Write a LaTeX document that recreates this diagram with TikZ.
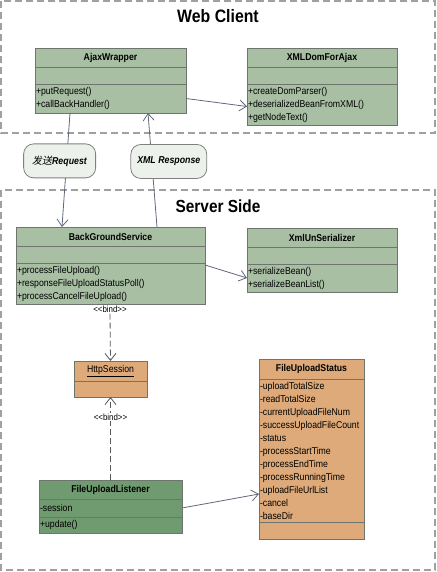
\documentclass[tikz,border=0pt]{standalone}
\usepackage{fontspec}
\setmainfont{Liberation Sans}
\newfontfamily\etroit[FakeStretch=0.88]{Liberation Sans}
\newfontfamily\cjk[FakeSlant=0.2]{Noto Sans CJK SC}
\usetikzlibrary{arrows.meta,positioning}
\definecolor{vertclair}{RGB}{168,191,164}
\definecolor{vertfonce}{RGB}{112,155,112}
\definecolor{ocre}{RGB}{222,170,122}
\definecolor{bulle}{RGB}{236,241,236}
\definecolor{trait}{RGB}{96,104,122}
\definecolor{bord}{RGB}{110,116,110}
\definecolor{cadre}{RGB}{160,160,160}
\newcommand\mfont{\etroit\fontsize{9.9}{13}\selectfont}
\newcommand\bnd{<\kern0pt<bind>\kern0pt>}
\tikzset{%
  clshead/.style={draw=bord,inner sep=0pt,outer sep=0pt,minimum height=19,font=\mfont\bfseries},
  clsrow/.style={draw=bord,text width=#1,align=left,inner xsep=1pt,inner ysep=0pt,outer sep=0pt,font=\mfont},
  ligne/.style={draw=trait,line width=.8pt},
  lienbind/.style={draw=black!65,line width=.8pt,dash pattern=on 6pt off 3pt},
  cadrepl/.style={draw=cadre,line width=1.4pt,dash pattern=on 7pt off 4pt},
  msg/.style={draw=gray,fill=bulle,rounded corners=10pt,minimum height=34,inner sep=0pt,font=\etroit\fontsize{10}{11}\selectfont}
}
\begin{document}
\begin{tikzpicture}[x=1pt,y=-1pt,>={Straight Barb[length=7pt,width=11pt]}]%
        \useasboundingbox (0,0) rectangle (436,572);%%
        \draw[cadrepl] (1,1) rectangle (435,133);%%
        \draw[cadrepl] (1,190) rectangle (435,570);%%
        \node[font=\etroit\fontsize{18}{20}\bfseries\selectfont] (webT) at (218,16) {Web Client}; %%
        \node[font=\etroit\fontsize{17.5}{20}\bfseries\selectfont] (srvT) at (218,206) {Server Side}; %%
        % classes vertes
        \begin{scope}[every node/.append style={fill=vertclair}]
        \node[clshead,minimum width=151,anchor=north west] (ajaxH) at (35,48) {AjaxWrapper}; %%
        \node[clsrow=149,minimum height=17,below=0pt of ajaxH] (ajaxA) {}; %%
        \node[clsrow=149,minimum height=29,below=0pt of ajaxA] (ajaxM) {+putRequest()\\+callBackHandler()}; %%
        \node[clshead,minimum width=150,anchor=north west] (domH) at (247,48) {XMLDomForAjax}; %%
        \node[clsrow=148,minimum height=17,below=0pt of domH] (domA) {}; %%
        \node[clsrow=148,minimum height=41,below=0pt of domA] (domM) {+createDomParser()\\+deserializedBeanFromXML()\\+getNodeText()}; %%
        \node[clshead,minimum width=189,anchor=north west] (bgsH) at (16,227) {BackGroundService}; %%
        \node[clsrow=187,minimum height=17,below=0pt of bgsH] (bgsA) {}; %%
        \node[clsrow=187,minimum height=41,below=0pt of bgsA] (bgsM) {+processFileUpload()\\+responseFileUploadStatusPoll()\\+processCancelFileUpload()}; %%
        \node[clshead,minimum width=150,anchor=north west] (xunH) at (247,228) {XmlUnSerializer}; %%
        \node[clsrow=148,minimum height=17,below=0pt of xunH] (xunA) {}; %%
        \node[clsrow=148,minimum height=28,below=0pt of xunA] (xunM) {+serializeBean()\\+serializeBeanList()}; %%
        \end{scope}
        \begin{scope}[every node/.append style={fill=vertfonce}]
        \node[clshead,minimum width=143,anchor=north west] (fulH) at (39,480) {FileUploadListener}; %%
        \node[clsrow=141,minimum height=18,below=0pt of fulH] (fulA) {-session}; %%
        \node[clsrow=141,minimum height=16,below=0pt of fulA] (fulM) {+update()}; %%
        \end{scope}
        % classes ocre
        \begin{scope}[every node/.append style={fill=ocre}]
        \node[clshead,font=\mfont,minimum width=73,minimum height=20,anchor=north west] (httpH) at (74,361) {\underline{HttpSession}}; %%
        \node[clsrow=71,minimum height=16,below=0pt of httpH] (httpA) {}; %%
        \node[clshead,minimum width=105,minimum height=20,anchor=north west] (fusH) at (259,359) {FileUploadStatus}; %%
        \node[clsrow=103,minimum height=143,below=0pt of fusH] (fusA) {-uploadTotalSize\\-readTotalSize\\-currentUploadFileNum\\-successUploadFileCount\\-status\\-processStartTime\\-processEndTime\\-processRunningTime\\-uploadFileUrlList\\-cancel\\-baseDir}; %%
        \node[clsrow=103,minimum height=17,below=0pt of fusA] (fusM) {}; %%
        \end{scope}
        \node[font=\etroit\fontsize{9}{10}\selectfont,inner sep=1pt] (bind1) at (110,309) {\bnd}; %%
        % liens
        \draw[ligne,->] (ajaxM.east)--([yshift=-2]domM.west); %%
        \draw[ligne,->] ([yshift=-2]bgsM.north east)--(xunM.west); %%
        \draw[ligne,->] (fulA.east)--([yshift=28]fusA.south west); %%
        \draw[ligne,->] ([xshift=35]ajaxM.south west)-- node[msg,minimum width=72,pos=.42,xshift=-7] (envoi) {{\cjk 发送}\textbf{\textit{Request}}} ([xshift=46]bgsH.north west); %%
        \draw[ligne,->] ([xshift=141]bgsH.north west)-- node[msg,minimum width=76,pos=.575,xshift=17] (reponse) {\textbf{\textit{XML Response}}} ([xshift=113]ajaxM.south west); %%
        \draw[lienbind,->] (bind1.south)--(httpH.north); %%
        \draw[lienbind,->] (fulH.north)-- node[fill=white,inner sep=1pt,pos=.76,font=\etroit\fontsize{9}{10}\selectfont] (bind2) {\bnd} (httpA.south); %%
\end{tikzpicture}
\end{document}
